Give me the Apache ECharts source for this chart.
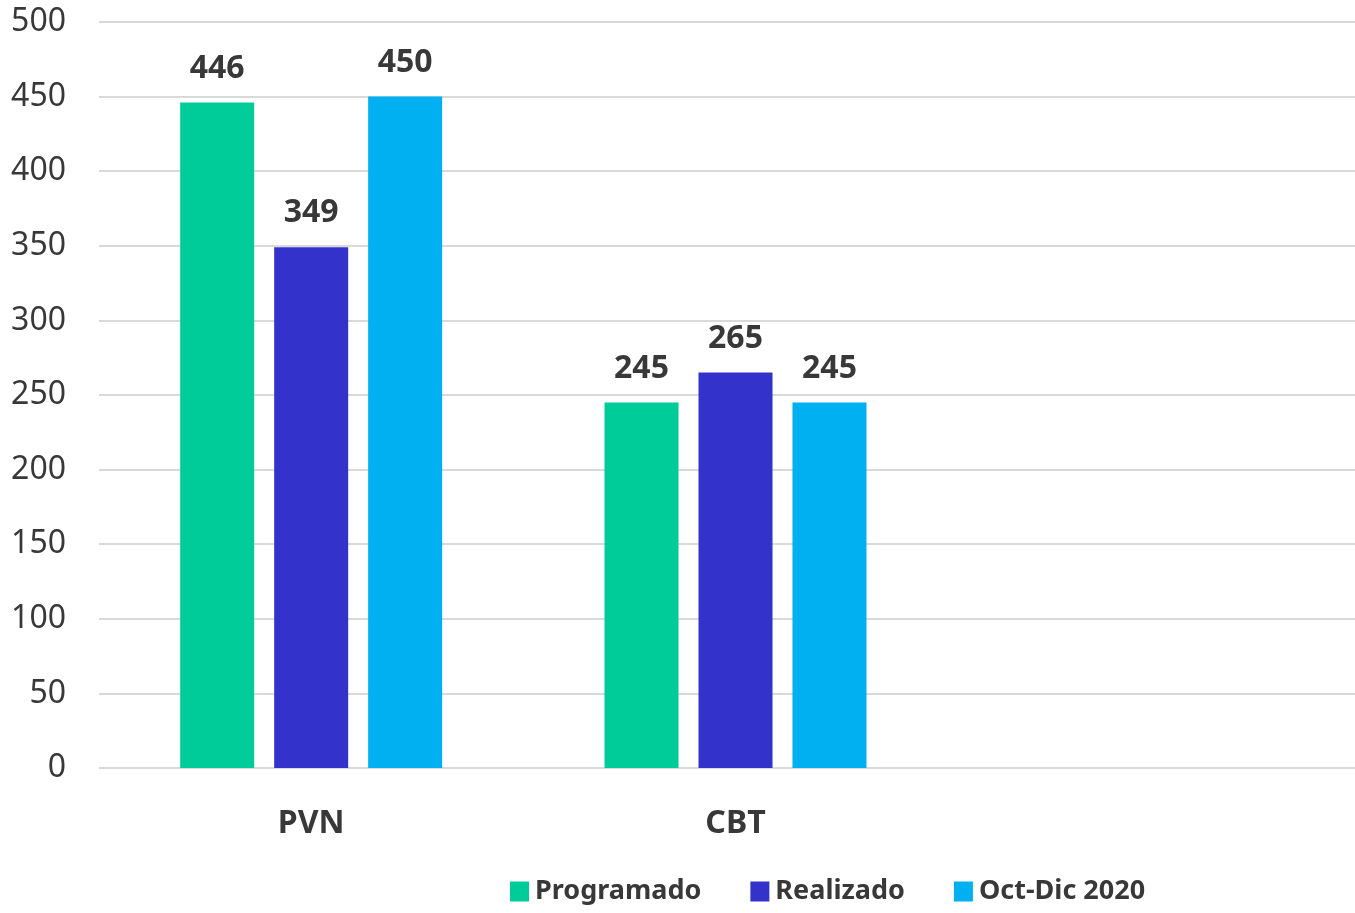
<!DOCTYPE html>
<html>
<head>
<meta charset="utf-8">
<script src="https://cdn.jsdelivr.net/npm/echarts@6/dist/echarts.min.js"></script>
<style>html,body{margin:0;padding:0;background:#fff;overflow:hidden;}#c{width:1372px;height:913px;}</style>
</head>
<body>
<div id="c"></div>
<script>
const categories = ['PVN', 'CBT', ''];
const programado = [446, 245, null];
const realizado = [349, 265, null];
const octDic2020 = [450, 245, null];
const seriesNames = ['Programado', 'Realizado', 'Oct-Dic 2020'];
const yTicks = { min: 0, max: 500, interval: 50 };

const colors = ['#00CC99', '#3333CC', '#00B0F0'];
const FONT = '"Noto Sans", "Open Sans", sans-serif';
const textColor = '#383838';

const chart = echarts.init(document.getElementById('c'), null, { renderer: 'canvas' });
const mk = (name, data, color) => ({
  name, type: 'bar', data, barWidth: 74, barGap: '27%',
  itemStyle: { color },
  label: {
    show: true, position: 'top', distance: 18,
    fontFamily: FONT, fontWeight: 'bold', fontSize: 32, color: textColor
  }
});
chart.setOption({
  animation: false,
  color: colors,
  grid: { left: 99, top: 22, right: 0, bottom: 145, containLabel: false },
  legend: {
    left: 505, top: 873,
    itemWidth: 19, itemHeight: 20, itemGap: 49,
    icon: 'rect',
    textStyle: { fontFamily: FONT, fontWeight: 'bold', fontSize: 27, color: textColor, padding: [0, 0, 0, 1] },
    data: seriesNames
  },
  xAxis: {
    type: 'category', data: categories,
    axisLine: { show: false }, axisTick: { show: false },
    axisLabel: { fontFamily: FONT, fontWeight: 'bold', fontSize: 32, color: textColor, margin: 40 }
  },
  yAxis: {
    type: 'value', min: yTicks.min, max: yTicks.max, interval: yTicks.interval,
    axisLine: { show: false }, axisTick: { show: false },
    splitLine: { lineStyle: { color: '#d9d9d9', width: 2 } },
    axisLabel: { fontFamily: FONT, fontSize: 32, color: textColor, margin: 33, padding: [4, 0, 0, 0] }
  },
  series: [
    mk(seriesNames[0], programado, colors[0]),
    mk(seriesNames[1], realizado, colors[1]),
    mk(seriesNames[2], octDic2020, colors[2])
  ]
});
</script>
</body>
</html>
